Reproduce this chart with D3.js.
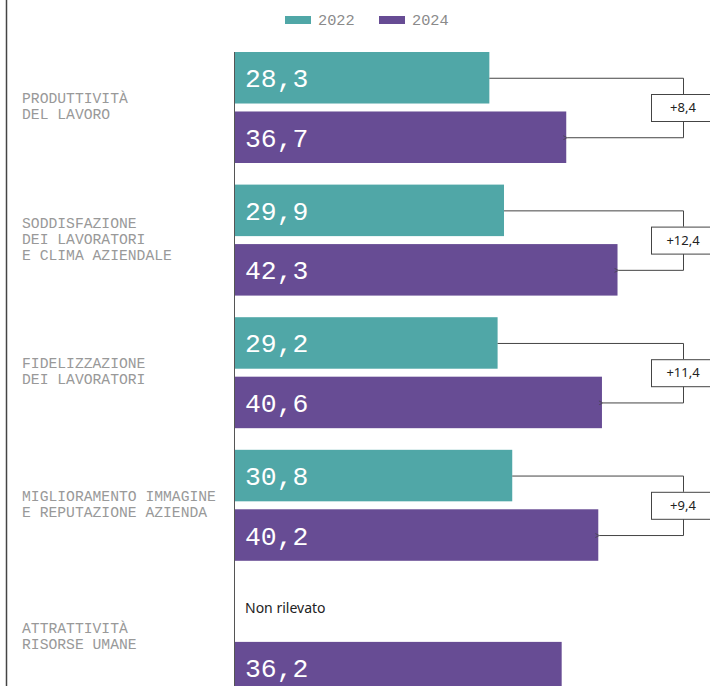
<!DOCTYPE html>
<html>
<head>
<meta charset="utf-8">
<script src="https://cdn.jsdelivr.net/npm/d3@7"></script>
<style>
  html, body { margin: 0; padding: 0; background: #fff; }
  svg { display: block; }
</style>
</head>
<body>
<svg id="chart" width="710" height="686"></svg>
<script>
const categories = [
  ["PRODUTTIVITÀ", "DEL LAVORO"],
  ["SODDISFAZIONE", "DEI LAVORATORI", "E CLIMA AZIENDALE"],
  ["FIDELIZZAZIONE", "DEI LAVORATORI"],
  ["MIGLIORAMENTO IMMAGINE", "E REPUTAZIONE AZIENDA"],
  ["ATTRATTIVITÀ", "RISORSE UMANE"]
];
const series = ["2022", "2024"];
const values2022 = [28.3, 29.9, 29.2, 30.8, null];
const values2024 = [36.7, 42.3, 40.6, 40.2, 36.2];
const missingLabel = "Non rilevato";

const colors = { "2022": "#50a7a7", "2024": "#674c94" };
const monoFont = "'Liberation Mono', 'DejaVu Sans Mono', monospace";
const sansFont = "'Noto Sans', 'Open Sans', sans-serif";

const locale = d3.formatLocale({ decimal: ",", thousands: ".", grouping: [3], currency: ["", "€"] });
const fmt = locale.format(".1f");
const fmtDiff = locale.format("+.1f");

const svg = d3.select("#chart");
const W = 710, H = 686;

const idx = categories.map((d, i) => i);
const y = d3.scaleBand().domain(idx).range([41.2, 704.2]).paddingInner(0.163).paddingOuter(0.0815);
const ySub = d3.scaleBand().domain(series).range([0, y.bandwidth()]).paddingInner(0.134);
const x = d3.scaleLinear().domain([0, 50]).range([230.3, 688]);
const axisX = 234.5;

// left frame line
svg.append("line").attr("x1", 6.5).attr("x2", 6.5).attr("y1", 0).attr("y2", H)
  .attr("stroke", "#444").attr("stroke-width", 1.5);

// legend
const legend = svg.append("g");
const legX = [285, 379];
series.forEach((s, i) => {
  legend.append("rect").attr("x", legX[i]).attr("y", 16).attr("width", 26).attr("height", 8).attr("fill", colors[s]);
  legend.append("text").attr("x", legX[i] + 33).attr("y", 25).text(s)
    .attr("font-family", monoFont).attr("font-size", 15.3).attr("fill", "#8a8a8a");
});

const data = idx.map(i => ({ i, lines: categories[i], "2022": values2022[i], "2024": values2024[i] }));

// category labels
data.forEach(d => {
  const c = y(d.i) + y.bandwidth() / 2;
  const n = d.lines.length;
  const t = svg.append("text").attr("font-family", monoFont).attr("font-size", 14.7).attr("fill", "#999");
  d.lines.forEach((l, k) => {
    t.append("tspan").attr("x", 22).attr("y", c + (k - (n - 1) / 2) * 16 + 3.5).text(l);
  });
});

// bars
const groups = svg.selectAll("g.grp").data(data).join("g").attr("class", "grp")
  .attr("transform", d => `translate(0,${y(d.i)})`);

series.forEach(s => {
  groups.filter(d => d[s] != null).append("rect")
    .attr("x", axisX)
    .attr("y", ySub(s))
    .attr("width", d => x(d[s]) - axisX)
    .attr("height", ySub.bandwidth())
    .attr("fill", colors[s]);
  groups.filter(d => d[s] != null).append("text")
    .attr("x", 245)
    .attr("y", ySub(s) + ySub.bandwidth() / 2 + 9.5)
    .attr("font-family", monoFont).attr("font-size", 26.4).attr("fill", "#fff")
    .text(d => fmt(d[s]));
  groups.filter(d => d[s] == null).append("text")
    .attr("x", 245)
    .attr("y", ySub(s) + ySub.bandwidth() / 2 + 5)
    .attr("font-family", sansFont).attr("font-size", 14).attr("fill", "#222")
    .text(missingLabel);
});

// axis line
svg.append("line").attr("x1", axisX).attr("x2", axisX).attr("y1", y(0)).attr("y2", H)
  .attr("stroke", "#555").attr("stroke-width", 1);

// arrow marker
const defs = svg.append("defs");
defs.append("marker").attr("id", "arr").attr("viewBox", "0 0 10 10").attr("refX", 1).attr("refY", 5)
  .attr("markerWidth", 5).attr("markerHeight", 5).attr("orient", "auto-start-reverse")
  .append("path").attr("d", "M9,1 L1,5 L9,9").attr("fill", "none").attr("stroke", "#444").attr("stroke-width", 1.5);

// difference annotations
const connX = 683, boxW = 64, boxH = 27;
data.filter(d => d["2022"] != null && d["2024"] != null).forEach(d => {
  const g = svg.append("g").attr("transform", `translate(0,${y(d.i)})`);
  const c = y.bandwidth() / 2;
  const y1 = ySub("2022") + ySub.bandwidth() / 2;
  const y2 = ySub("2024") + ySub.bandwidth() / 2;
  g.append("path")
    .attr("d", `M${x(d["2022"])},${y1 + 0.5}H${connX + 0.5}V${c - boxH / 2}`)
    .attr("fill", "none").attr("stroke", "#444").attr("stroke-width", 1);
  g.append("path")
    .attr("d", `M${connX + 0.5},${c + boxH / 2}V${y2 + 0.5}H${x(d["2024"]) + 1}`)
    .attr("fill", "none").attr("stroke", "#444").attr("stroke-width", 1)
    .attr("marker-end", "url(#arr)");
  g.append("rect").attr("x", connX - boxW / 2 + 0.5).attr("y", c - boxH / 2 + 0.5)
    .attr("width", boxW).attr("height", boxH)
    .attr("fill", "#fff").attr("stroke", "#444").attr("stroke-width", 1);
  g.append("text").attr("x", connX).attr("y", c + 4.5).attr("text-anchor", "middle")
    .attr("font-family", sansFont).attr("font-size", 13).attr("fill", "#222")
    .text(fmtDiff(d["2024"] - d["2022"]));
});
</script>
</body>
</html>
